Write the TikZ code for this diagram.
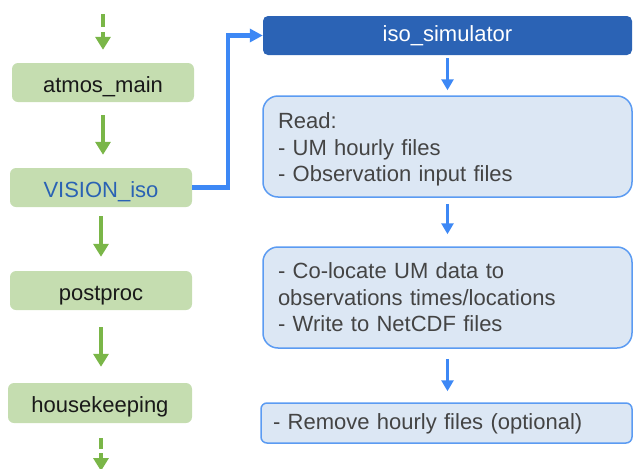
\documentclass[tikz,border=0pt]{standalone}
\usepackage{fontspec}
\setmainfont{Liberation Sans}
\usetikzlibrary{arrows.meta}
\definecolor{gfill}{HTML}{C5DDB0}
\definecolor{garrow}{HTML}{7AB648}
\definecolor{barrow}{HTML}{3D88F5}
\definecolor{bdark}{HTML}{2B63B5}
\definecolor{bfill}{HTML}{DCE7F4}
\definecolor{bborder}{HTML}{5B9BF2}
\definecolor{tgray}{HTML}{444444}
\definecolor{tblue}{HTML}{2A62B4}
\tikzset{
  bigfont/.style={font=\fontsize{22}{26.5}\selectfont},
  greenbox/.style={bigfont, fill=gfill, draw=none, rounded corners=6pt, minimum width=182pt, minimum height=39pt, inner sep=0pt, text=black!90, text height=19pt, text depth=0pt},
  simbox/.style={bigfont, fill=bdark, draw=none, rounded corners=5pt, minimum width=369pt, minimum height=39pt, inner sep=0pt, text=white, text height=16pt, text depth=4pt},
  stepbox/.style={bigfont, fill=bfill, draw=bborder, line width=1.5pt, rounded corners=15pt, text width=339pt, inner xsep=15pt, inner ysep=0pt, minimum height=101pt, align=left, text=tgray},
  smallstep/.style={bigfont, fill=bfill, draw=bborder, line width=1.5pt, rounded corners=6pt, text width=347pt, inner xsep=12pt, inner ysep=0pt, minimum height=40pt, align=left, text=tgray, text height=16pt, text depth=4pt},
  garr/.style={draw=garrow, line width=4pt, -{Triangle[width=15pt,length=13pt]}},
  gdash/.style={draw=garrow, line width=4pt},
  barr/.style={draw=barrow, line width=3pt, -{Triangle[width=12pt,length=11pt]}},
  bconn/.style={draw=barrow, line width=4.5pt, -{Triangle[width=13pt,length=13pt]}}
}
\begin{document}
\begin{tikzpicture}[x=1pt,y=-1pt]
\useasboundingbox (0,0) rectangle (633,469);
% left column
\node[greenbox] (atmos) at (103,82.5) {atmos\_main};
\node[greenbox, text=tblue] (vision) at (101,187.5) {VISION\_iso};
\node[greenbox] (postproc) at (101,290.5) {postproc};
\node[greenbox, minimum width=184pt, minimum height=40pt] (house) at (100,403) {housekeeping};
% top dashed arrow
\coordinate (t0) at (103,14);
\coordinate (t1) at (103,27);
\coordinate (t2) at (103,32);
\draw[gdash] (t0) -- (t1);
\draw[garr, shorten >=13pt] (t2) -- (atmos.north);
% left arrows
\draw[garr, shorten <=13pt, shorten >=13pt] (atmos.south) -- (atmos.south |- vision.north);
\draw[garr, shorten <=9pt, shorten >=14pt] (vision.south) -- (postproc.north);
\draw[garr, shorten <=17pt, shorten >=16pt] (postproc.south) -- (postproc.south |- house.north);
% bottom dashed arrow
\coordinate (b0) at (101,438);
\coordinate (b1) at (101,449);
\coordinate (b2) at (101,453);
\coordinate (b3) at (101,471);
\draw[gdash] (b0) -- (b1);
\draw[garr] (b2) -- (b3);
% right column
\node[simbox] (sim) at (447.5,35.5) {iso\_simulator};
\node[stepbox] (read) at (447.5,146.5) {\rule{0pt}{22pt}Read:\\- UM hourly files\\- Observation input files};
\node[stepbox] (colocate) at (447.5,297.5) {- Co-locate UM data to\\observations times/locations\\- Write to NetCDF files};
\node[smallstep] (remove) at (446.5,423) {- Remove hourly files (optional)};
\draw[barr, shorten <=3pt, shorten >=5pt] (sim.south -| read.north) -- (read.north);
\draw[barr, shorten <=6pt, shorten >=12pt] (read.south) -- (colocate.north);
\draw[barr, shorten <=10pt, shorten >=11pt] (colocate.south) -- (colocate.south |- remove.north);
% connector
\coordinate (corner) at (228,187.5);
\draw[bconn] (vision.east) -- (corner) |- (sim.west);
\end{tikzpicture}
\end{document}
